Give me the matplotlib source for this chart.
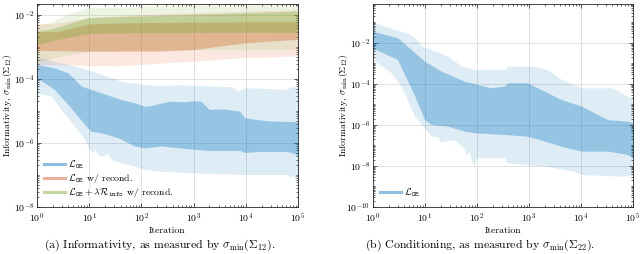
import numpy as np
import matplotlib

matplotlib.use("Agg")

import matplotlib.pyplot as plt
from matplotlib.lines import Line2D
from matplotlib.ticker import LogLocator, NullFormatter


plt.rcParams["font.family"] = "serif"
plt.rcParams["font.serif"] = ["cmr10", "DejaVu Serif"]
plt.rcParams["mathtext.fontset"] = "cm"
plt.rcParams["axes.formatter.use_mathtext"] = True
plt.rcParams["axes.unicode_minus"] = False

# values are log10 of iteration / log10 of sigma_min

# (a) L_OE, outer band
a_blue_light_top_x = [0, 0.34, 0.79, 1.24, 1.62, 2.07, 2.36, 2.74, 3.75, 3.85, 4.02, 4.79, 4.9, 5.0]
a_blue_light_top_y = [-3.3, -3.47, -3.63, -3.87, -4.09, -4.19, -4.22, -4.2, -4.26, -4.4, -4.29, -4.34, -4.24, -4.3]
a_blue_light_bot_x = [0, 0.28, 0.47, 0.73, 0.92, 0.98, 1.03, 1.08, 1.12, 1.17, 1.24, 1.35, 1.45, 1.62, 1.88,
                      2.07, 2.39, 3.0, 4.0, 4.8, 4.85, 4.9, 4.95, 5.0]
a_blue_light_bot_y = [-4.45, -4.55, -4.97, -5.49, -5.9, -6.11, -6.25, -6.32, -6.22, -6.38, -6.43, -6.35, -6.55,
                      -6.63, -6.74, -6.84, -6.9, -6.95, -7.0, -7.0, -7.1, -7.02, -7.15, -7.1]
# (a) L_OE, inner band
a_blue_dark_top_x = [0, 0.34, 0.6, 0.86, 1.24, 1.62, 1.88, 2.07, 2.2, 2.36, 2.55, 2.8, 3.0, 3.15, 3.31, 3.6,
                     3.89, 3.98, 4.2, 4.46, 5.0]
a_blue_dark_top_y = [-3.56, -3.67, -3.82, -4.24, -4.45, -4.66, -4.76, -4.87, -4.85, -4.78, -4.71, -4.73, -4.7,
                     -4.71, -4.97, -4.95, -5.02, -5.22, -5.28, -5.33, -5.35]
a_blue_dark_bot_x = [0, 0.34, 0.6, 0.79, 0.98, 1.05, 1.24, 1.56, 1.88, 2.07, 2.39, 2.8, 3.3, 3.9, 3.98, 4.3,
                     4.8, 4.95, 5.0]
a_blue_dark_bot_y = [-3.98, -4.34, -4.81, -5.18, -5.54, -5.65, -5.7, -5.85, -6.11, -6.17, -6.11, -6.18, -6.25,
                     -6.25, -6.31, -6.28, -6.28, -6.35, -6.43]

# (a) L_OE w/ recond.
a_orange_light_top_x = [0, 0.5, 1.0, 2.0, 3.0, 5.0]
a_orange_light_top_y = [-2.31, -2.25, -2.1, -2.0, -1.95, -1.85]
a_orange_light_bot_x = [0, 1.0, 1.5, 2.0, 3.0, 4.0, 5.0]
a_orange_light_bot_y = [-3.56, -3.6, -3.61, -3.56, -3.46, -3.35, -3.3]
a_orange_dark_top_x = [0, 0.4, 0.7, 1.0, 1.5, 2.36, 3.5, 5.0]
a_orange_dark_top_y = [-2.54, -2.54, -2.42, -2.3, -2.27, -2.25, -2.24, -2.22]
a_orange_dark_bot_x = [0, 1.0, 2.36, 3.0, 3.5, 4.0, 4.5, 5.0]
a_orange_dark_bot_y = [-3.12, -3.15, -3.15, -3.1, -2.99, -2.89, -2.83, -2.78]

# (a) L_OE + lambda R_info w/ recond.
a_green_light_top_x = [0, 0.26, 0.57, 1.0, 2.0, 3.0, 5.0]
a_green_light_top_y = [-2.31, -2.26, -2.0, -1.79, -1.74, -1.72, -1.67]
a_green_light_bot_x = [0, 0.5, 1.0, 2.0, 5.0]
a_green_light_bot_y = [-3.5, -3.3, -3.15, -3.1, -3.1]
a_green_dark_top_x = [0, 0.3, 0.57, 1.0, 2.0, 3.0, 4.0, 5.0]
a_green_dark_top_y = [-2.52, -2.45, -2.31, -2.1, -2.05, -2.0, -1.95, -1.9]
a_green_dark_bot_x = [0, 0.5, 1.0, 2.0, 5.0]
a_green_dark_bot_y = [-2.94, -2.75, -2.6, -2.57, -2.56]

# (b) L_OE, outer band
b_light_top_x = [0, 0.23, 0.51, 0.67, 0.84, 0.94, 1.13, 1.45, 1.71, 1.96, 2.54, 2.6, 3.1, 3.37, 3.63, 4.02,
                 4.6, 4.79, 5.0]
b_light_top_y = [-1.0, -1.2, -1.43, -1.53, -1.8, -2.18, -2.34, -2.67, -3.16, -3.32, -3.32, -3.16, -3.16, -3.32,
                 -3.8, -4.21, -4.21, -4.45, -4.78]
b_light_bot_x = [0, 0.36, 0.55, 0.67, 0.81, 1.0, 1.13, 1.25, 1.3, 1.58, 1.77, 1.8, 1.85, 1.9, 1.96, 2.0, 2.54,
                 2.6, 3.31, 3.88, 4.02, 4.79, 5.0]
b_light_bot_y = [-2.83, -3.48, -4.13, -4.78, -5.6, -6.16, -6.57, -6.6, -6.85, -6.73, -7.22, -7.5, -7.3, -7.7,
                 -8.03, -7.62, -7.62, -7.87, -8.03, -8.28, -8.44, -8.52, -8.5]
# (b) L_OE, inner band
b_dark_top_x = [0, 0.48, 0.67, 1.0, 1.32, 1.77, 2.02, 2.28, 2.54, 2.6, 2.98, 3.31, 3.63, 4.02, 4.52, 4.9, 5.0]
b_dark_top_y = [-1.45, -1.77, -2.18, -2.91, -3.4, -3.89, -4.05, -4.21, -4.13, -3.97, -3.97, -4.38, -4.78,
                -5.11, -5.76, -5.84, -5.9]
b_dark_bot_x = [0, 0.48, 0.81, 1.0, 1.13, 1.44, 1.77, 1.96, 2.54, 2.98, 3.31, 3.63, 4.02, 4.52, 4.9, 5.0]
b_dark_bot_y = [-2.26, -2.83, -4.6, -5.76, -6.0, -6.08, -6.33, -6.4, -6.49, -6.57, -6.81, -7.06, -7.3, -7.3,
                -7.46, -7.62]

BLUE = (0.0, 0.447, 0.741)
ORANGE = (0.85, 0.325, 0.098)
GREEN = (0.466, 0.674, 0.188)
LIGHT_ALPHA = 0.13
DARK_ALPHA = 0.32
FS = 7


def band(ax, top_x, top_y, bot_x, bot_y, color, alpha):
    xs = np.r_[top_x, bot_x[::-1]]
    ys = np.r_[top_y, bot_y[::-1]]
    ax.fill(10.0 ** xs, 10.0 ** ys, color=color, alpha=alpha, linewidth=0)


def style_axis(ax, ylim, yticks):
    ax.set_xscale("log")
    ax.set_yscale("log")
    ax.set_xlim(1, 1e5)
    ax.set_ylim(*ylim)
    ax.set_xticks([10.0 ** k for k in range(6)])
    ax.set_yticks(yticks)
    ax.xaxis.set_minor_locator(LogLocator(base=10, subs=np.arange(2, 10), numticks=100))
    ax.yaxis.set_minor_locator(LogLocator(base=10, subs=np.arange(1, 10), numticks=100))
    ax.xaxis.set_minor_formatter(NullFormatter())
    ax.yaxis.set_minor_formatter(NullFormatter())
    ax.tick_params(which="both", direction="in", top=True, right=True, labelsize=FS,
                   color="#262626", width=0.5)
    ax.tick_params(which="major", length=3)
    ax.tick_params(axis="x", which="major", pad=3)
    ax.tick_params(axis="y", which="major", pad=2)
    ax.tick_params(which="minor", length=1.6)
    ax.grid(True, which="major", color="#dcdcdc", linewidth=0.6)
    ax.set_axisbelow(True)
    for spine in ax.spines.values():
        spine.set_color("#262626")
        spine.set_linewidth(0.6)
    ax.set_xlabel("Iteration", fontsize=FS, labelpad=1)
    ax.set_ylabel(r"Informativity, $\sigma_{\min}(\mathbf{\Sigma}_{12})$", fontsize=FS)
    ax.yaxis.set_label_coords(-0.09, 0.5)


fig = plt.figure(figsize=(6.4, 2.54), dpi=100)
ax_a = fig.add_axes([37 / 640, 47 / 254, 261 / 640, 203 / 254])
ax_b = fig.add_axes([373 / 640, 47 / 254, 260 / 640, 203 / 254])

# panel (a)
band(ax_a, a_blue_light_top_x, a_blue_light_top_y, a_blue_light_bot_x, a_blue_light_bot_y, BLUE, LIGHT_ALPHA)
band(ax_a, a_blue_dark_top_x, a_blue_dark_top_y, a_blue_dark_bot_x, a_blue_dark_bot_y, BLUE, DARK_ALPHA)
band(ax_a, a_orange_light_top_x, a_orange_light_top_y, a_orange_light_bot_x, a_orange_light_bot_y, ORANGE, LIGHT_ALPHA)
band(ax_a, a_orange_dark_top_x, a_orange_dark_top_y, a_orange_dark_bot_x, a_orange_dark_bot_y, ORANGE, DARK_ALPHA)
band(ax_a, a_green_light_top_x, a_green_light_top_y, a_green_light_bot_x, a_green_light_bot_y, GREEN, LIGHT_ALPHA)
band(ax_a, a_green_dark_top_x, a_green_dark_top_y, a_green_dark_bot_x, a_green_dark_bot_y, GREEN, DARK_ALPHA)
style_axis(ax_a, (1e-8, 10 ** -1.66), [1e-8, 1e-6, 1e-4, 1e-2])

handles = [Line2D([], [], color=c, alpha=0.45, linewidth=2.2) for c in (BLUE, ORANGE, GREEN)]
labels = [
    r"$\mathcal{L}_{\mathtt{OE}}$",
    r"$\mathcal{L}_{\mathtt{OE}}$ w/ recond.",
    r"$\mathcal{L}_{\mathtt{OE}} + \lambda\mathcal{R}_{\mathtt{info}}$ w/ recond.",
]
ax_a.legend(handles, labels, loc="upper left", bbox_to_anchor=(0.025, 0.24), frameon=False,
            fontsize=FS, handlelength=2.2, handletextpad=0.3, labelspacing=0.12, borderaxespad=0,
            borderpad=0)

# panel (b)
band(ax_b, b_light_top_x, b_light_top_y, b_light_bot_x, b_light_bot_y, BLUE, LIGHT_ALPHA)
band(ax_b, b_dark_top_x, b_dark_top_y, b_dark_bot_x, b_dark_bot_y, BLUE, DARK_ALPHA)
style_axis(ax_b, (1e-10, 10 ** -0.1), [1e-10, 1e-8, 1e-6, 1e-4, 1e-2])
ax_b.legend(handles[:1], labels[:1], loc="upper left", bbox_to_anchor=(0.025, 0.1), frameon=False,
            fontsize=FS, handlelength=2.2, handletextpad=0.3, borderaxespad=0, borderpad=0)

fig.text(160 / 640, 1 - 245 / 254, r"(a) Informativity, as measured by $\sigma_{\min}(\mathbf{\Sigma}_{12})$.",
         ha="center", va="center", fontsize=8.5)
fig.text(480 / 640, 1 - 245 / 254, r"(b) Conditioning, as measured by $\sigma_{\min}(\mathbf{\Sigma}_{22})$.",
         ha="center", va="center", fontsize=8.5)

fig.savefig("out.png", dpi=100)
plt.close(fig)
